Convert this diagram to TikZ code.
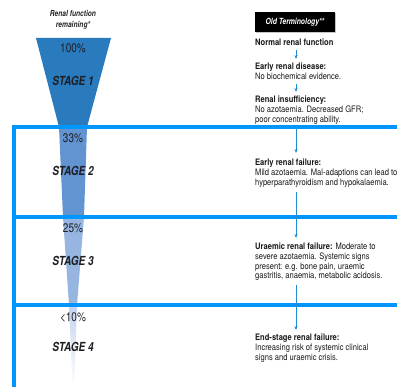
\documentclass[tikz,border=0pt]{standalone}
\usepackage{fontspec}
\setmainfont{TeX Gyre Heros}[FakeStretch=0.8]
\newfontfamily\widefam{TeX Gyre Heros}[FakeStretch=0.85]
\usetikzlibrary{arrows.meta,shadows}
\definecolor{cone}{RGB}{42,122,190}
\definecolor{ctwo}{RGB}{98,148,210}
\definecolor{cthree}{RGB}{150,182,225}
\definecolor{cfour}{RGB}{195,212,238}
\definecolor{bline}{RGB}{0,150,255}
\definecolor{barrow}{RGB}{30,140,210}
\definecolor{stagetxt}{RGB}{30,30,35}
\begin{document}
\begin{tikzpicture}[x=1pt,y=-1pt,
  bluerule/.style={draw=bline,line width=4pt,line join=miter},
  arr/.style={draw=barrow,line width=0.8pt,-{Stealth[length=4pt,width=3.2pt]}},
  desc/.style={anchor=north west,inner sep=0pt,align=left,font=\widefam\fontsize{8.9}{9.7}\selectfont,text=black!90},
  pct/.style={inner sep=0pt,font=\fontsize{12.5}{14}\selectfont,text=stagetxt},
  stagelbl/.style={inner sep=0pt,font=\fontsize{12.5}{14}\selectfont\bfseries\itshape,text=stagetxt},
  hdr/.style={inner sep=0pt,align=center,font=\fontsize{8.3}{10.5}\selectfont\bfseries\itshape,text=black!85}]
\useasboundingbox (0,0) rectangle (397,387);
% funnel
\fill[cone] (36,38) -- (111,38) -- (87,127) -- (59,127) -- cycle;
\fill[ctwo] (59,127) -- (87,127) -- (84,217) -- (63,217) -- cycle;
\fill[cthree] (63,217) -- (84,217) -- (77,305) -- (69,305) -- cycle;
\shade[top color=cfour,bottom color=white] (69,305) -- (77,305) -- (74.5,387) -- (72.5,387) -- cycle;
% blue rules
\draw[bluerule] (14,389) -- (14,127) -- (399,127);
\draw[bluerule] (14,217) -- (399,217);
\draw[bluerule] (14,305) -- (399,305);
% left labels
\node[hdr] (hd) at (73,20) {Renal function\\remaining*};
\node[pct] (p1) at (73,48) {100\%};
\node[stagelbl] (s1) at (73,81) {STAGE 1};
\node[pct] (p2) at (73,138) {33\%};
\node[stagelbl] (s2) at (73,171) {STAGE 2};
\node[pct] (p3) at (73,228) {25\%};
\node[stagelbl] (s3) at (73,261) {STAGE 3};
\node[pct] (p4) at (73,318) {<10\%};
\node[stagelbl] (s4) at (73,347) {STAGE 4};
% right column
\node[fill=black,text=white,minimum width=80pt,minimum height=20pt,inner sep=0pt,
  font=\fontsize{8.5}{10}\selectfont\bfseries\itshape,
  drop shadow={opacity=0.45,shadow xshift=1.2pt,shadow yshift=-1.2pt}] (ot) at (295,22) {Old Terminology**};
\coordinate (ax) at (296,0);
\coordinate (l1) at (296,129);
\node[desc] (n0) at (255,39) {\textbf{Normal renal function}};
\node[desc] (n1) at (255,63) {\textbf{Early renal disease:}\\No biochemical evidence.};
\node[desc] (n2) at (255,96) {\textbf{Renal insufficiency:}\\No azotaemia. Decreased GFR;\\poor concentrating ability.};
\node[desc] (n3) at (255,159) {\textbf{Early renal failure:}\\Mild azotaemia. Mal-adaptions can lead to\\hyperparathyroidism and hypokalaemia.};
\node[desc] (n4) at (255,243) {\textbf{Uraemic renal failure:} Moderate to\\severe azotaemia. Systemic signs\\present: e.g. bone pain, uraemic\\gastritis, anaemia, metabolic acidosis.};
\node[desc] (n5) at (255,334) {\textbf{End-stage renal failure:}\\Increasing risk of systemic clinical\\signs and uraemic crisis.};
% arrows
\draw[arr,shorten <=4pt,shorten >=4pt] (n0.south -| ax) -- (n1.north -| ax);
\draw[arr,shorten <=4pt,shorten >=4pt] (n1.south -| ax) -- (n2.north -| ax);
\draw[arr,shorten >=6pt] (l1) -- (n3.north -| ax);
\draw[arr,shorten <=5pt,shorten >=5pt] (n3.south -| ax) -- (n4.north -| ax);
\draw[arr,shorten <=4pt,shorten >=4pt] (n4.south -| ax) -- (n5.north -| ax);
\end{tikzpicture}
\end{document}
